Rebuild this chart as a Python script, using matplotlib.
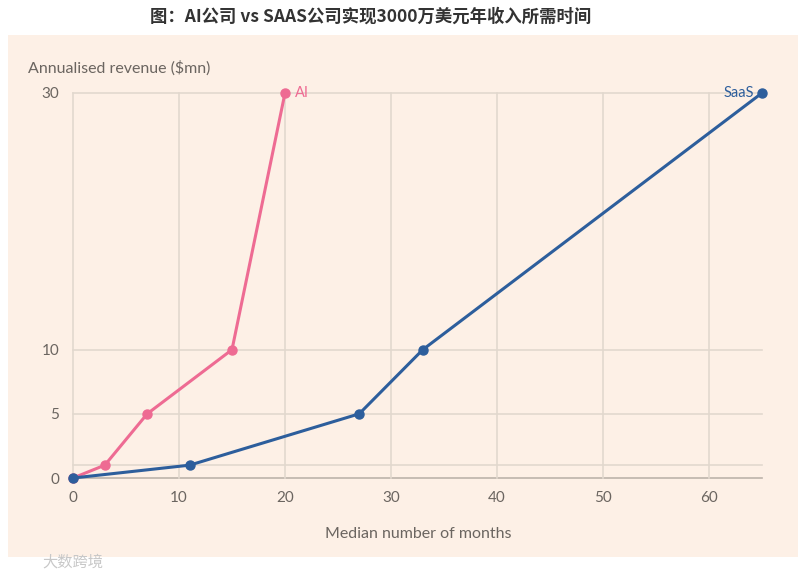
import matplotlib
matplotlib.use("Agg")
import matplotlib.pyplot as plt
from matplotlib.patches import Rectangle

plt.rcParams['font.family'] = ['Lato', 'Noto Sans CJK SC', 'DejaVu Sans']

ai_months = [0, 3, 7, 15, 20]
ai_revenue = [0, 1, 5, 10, 30]
saas_months = [0, 11, 27, 33, 65]
saas_revenue = [0, 1, 5, 10, 30]
x_ticks = [0, 10, 20, 30, 40, 50, 60]
y_ticks = [0, 5, 10, 30]
y_grid = [0, 1, 5, 10, 30]

title = "图：AI公司 vs SAAS公司实现3000万美元年收入所需时间"
bg = '#FDF0E6'
pink = '#EE6B93'
blue = '#2D5E9C'
grid_c = '#E2D8CE'
text_c = '#6B6560'

W, H = 806, 576
fig = plt.figure(figsize=(W/100, H/100), dpi=100)
fig.patch.set_facecolor('white')
fig.patches.append(Rectangle((8/W, 1-557/H), (798-8)/W, (557-35)/H,
                             transform=fig.transFigure, facecolor=bg, edgecolor='none', zorder=-5))

ax = fig.add_axes([73/W, 1-478/H, (762-73)/W, (478-93)/H])
ax.set_zorder(2)
ax.set_facecolor('none')
ax.set_xlim(0, 65)
ax.set_ylim(0, 30)
for s in ax.spines.values():
    s.set_visible(False)

for y in y_grid:
    ax.axhline(y, color=('#BDB3AA' if y == 0 else grid_c), lw=1.2, zorder=1, clip_on=False)
for x in x_ticks:
    ax.plot([x, x], [0, 30], color=grid_c, lw=1.2, zorder=1, clip_on=False)

ax.plot(ai_months, ai_revenue, color=pink, lw=2.2, marker='o', ms=6.5, zorder=3, clip_on=False)
ax.plot(saas_months, saas_revenue, color=blue, lw=2.2, marker='o', ms=6.5, zorder=4, clip_on=False)

ax.annotate('AI', (ai_months[-1], ai_revenue[-1]), xytext=(7, 0), textcoords='offset points',
            color=pink, fontsize=10.5, va='center', ha='left')
ax.annotate('SaaS', (saas_months[-1], saas_revenue[-1]), xytext=(-6, 0), textcoords='offset points',
            color=blue, fontsize=10.5, va='center', ha='right')

ax.set_xticks(x_ticks)
ax.set_yticks(y_ticks)
ax.set_xticklabels([str(v) for v in x_ticks])
ax.set_yticklabels([str(v) for v in y_ticks])
ax.tick_params(axis='both', length=0, labelsize=11, labelcolor=text_c)
ax.tick_params(axis='x', pad=9)
ax.tick_params(axis='y', pad=10)

fig.text(28/W, 1-68/H, 'Annualised revenue ($mn)', fontsize=11.5, color=text_c, ha='left', va='center')
fig.text(418/W, 1-534/H, 'Median number of months', fontsize=11.5, color=text_c, ha='center', va='center')
fig.text(371/W, 1-17/H, title, fontsize=12.5, fontweight='bold', color='#333333',
         ha='center', va='center', family=['Noto Sans CJK SC', 'DejaVu Sans'])
fig.text(42/W, 1-562/H, '大数跨境', fontsize=11, color='#C8C8C8', ha='left', va='center',
         family=['Noto Sans CJK SC', 'DejaVu Sans'], zorder=5)

fig.savefig('out.png', dpi=100, facecolor='white')
